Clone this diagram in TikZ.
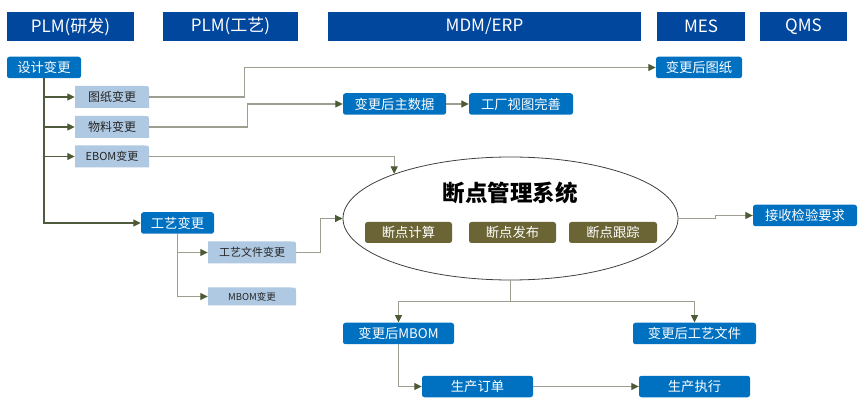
\documentclass[tikz,border=0pt]{standalone}
\usepackage{fontspec}
\setmainfont{Noto Sans CJK SC}
\usetikzlibrary{arrows.meta,shapes.geometric}
\definecolor{hdr}{HTML}{00479D}
\definecolor{nblue}{HTML}{0070C0}
\definecolor{lblue}{HTML}{AFC9E2}
\definecolor{olivebox}{HTML}{6B6535}
\definecolor{lgray}{HTML}{9D9E90}
\definecolor{dkline}{HTML}{505B3E}
\definecolor{ahead}{HTML}{4C5A36}
\definecolor{txt}{HTML}{262626}
\definecolor{ellcol}{HTML}{404040}
\begin{document}
\begin{tikzpicture}[x=1pt,y=-1pt,
  hdrbox/.style={fill=hdr, text=white, minimum height=29pt, inner sep=0pt, font=\fontsize{17}{19}\selectfont},
  bluebox/.style={fill=nblue, rounded corners=2.5pt, text=white, minimum height=21.5pt, inner sep=0pt, font=\fontsize{13.3}{15}\selectfont},
  olbox/.style={fill=olivebox, rounded corners=2.5pt, text=white, minimum height=21pt, inner sep=0pt, font=\fontsize{13.3}{15}\selectfont},
  lbbox/.style={fill=white, inner sep=0pt, text=txt, minimum height=22pt, font=\fontsize{12}{14}\selectfont,
    path picture={\fill[lblue] (path picture bounding box.south west) -- (path picture bounding box.south east)
      -- ([yshift=-5pt]path picture bounding box.north east) .. controls (path picture bounding box.north east) .. ([xshift=-5pt]path picture bounding box.north east)
      -- (path picture bounding box.north west) -- cycle;}},
  ln/.style={draw=lgray, line width=1.1pt},
  dln/.style={draw=dkline, line width=1.1pt},
  arr/.style={ln, -{Triangle[length=7.5pt,width=7pt,color=ahead]}},
  darr/.style={dln, -{Triangle[length=7.5pt,width=7pt,color=ahead]}},
]
\useasboundingbox[fill=white] (0,0) rectangle (865,403);

% headers
\node[hdrbox, minimum width=127pt] (h1) at (70.5,26.5) {PLM(研发)};
\node[hdrbox, minimum width=135pt] (h2) at (230.5,26.5) {PLM(工艺)};
\node[hdrbox, minimum width=313pt] (h3) at (484.5,26.5) {MDM/ERP};
\node[hdrbox, minimum width=88pt] (h4) at (701,26.5) {MES};
\node[hdrbox, minimum width=87pt] (h5) at (803.5,26.5) {QMS};

% blue nodes
\node[bluebox, minimum width=74pt] (sj) at (44,67.5) {设计变更};
\node[bluebox, minimum width=86pt] (htz) at (699,67.5) {变更后图纸};
\node[bluebox, minimum width=103pt] (zsj) at (394.5,104) {变更后主数据};
\node[bluebox, minimum width=104pt] (gc) at (521,104) {工厂视图完善};
\node[bluebox, minimum width=73pt] (gy) at (177.5,223) {工艺变更};
\node[bluebox, minimum width=104pt] (js) at (805,215.5) {接收检验要求};
\node[bluebox, minimum width=111pt] (hmb) at (398.5,333.5) {变更后MBOM};
\node[bluebox, minimum width=123pt] (hgw) at (694.5,333.5) {变更后工艺文件};
\node[bluebox, minimum width=111pt] (scd) at (477.5,386.5) {生产订单};
\node[bluebox, minimum width=111pt] (scz) at (694.5,386.5) {生产执行};

% light blue nodes
\node[lbbox, minimum width=74pt] (tz) at (112,97) {图纸变更};
\node[lbbox, minimum width=74pt] (wl) at (112,127) {物料变更};
\node[lbbox, minimum width=74pt, font=\fontsize{11}{13}\selectfont] (eb) at (112,156.5) {EBOM变更};
\node[lbbox, minimum width=88pt, font=\fontsize{11}{13}\selectfont] (gwj) at (252,252.5) {工艺文件变更};
\node[lbbox, minimum width=88pt, minimum height=18pt, font=\fontsize{9.5}{11}\selectfont] (mb) at (252,296.5) {MBOM变更};

% ellipse system
\node[ellipse, draw=ellcol, line width=0.8pt, minimum width=335pt, minimum height=123pt, inner sep=0pt] (ell) at (510.5,218.5) {};
\node[font=\fontsize{22.5}{24}\selectfont\bfseries, text=black] (title) at (510,193) {断点管理系统};
\node[olbox, minimum width=87pt] (o1) at (408.5,232.5) {断点计算};
\node[olbox, minimum width=87pt] (o2) at (512.5,232.5) {断点发布};
\node[olbox, minimum width=88pt] (o3) at (613,232.5) {断点跟踪};

% connectors: design change tree
\draw[darr] (sj.south) |- (gy.west);
\draw[darr] (sj.south |- tz.west) -- (tz.west);
\draw[darr] (sj.south |- wl.west) -- (wl.west);
\draw[darr] (sj.south |- eb.west) -- (eb.west);

\draw[arr] (tz.east) -- ++(95,0) |- (htz.west);
\draw[arr] (wl.east) -- ++(98,0) |- (zsj.west);
\draw[arr] (zsj.east) -- (gc.west);
\draw[arr] (eb.east) -| (ell.159.8);

% process change tree
\draw[arr] (gy.south) |- (gwj.west);
\draw[arr] (gy.south) |- (mb.west);
\draw[arr] (gwj.east) -- ++(24,0) |- (ell.west);

% outputs
\draw[arr] (ell.east) -- ++(37,0) |- (js.west);
\draw[arr] (ell.south) -- ++(0,21) -| (hmb.north);
\draw[arr] (ell.south) -- ++(0,21) -| (hgw.north);
\draw[arr] (hmb.south) |- (scd.west);
\draw[arr] (scd.east) -- (scz.west);
\end{tikzpicture}
\end{document}
